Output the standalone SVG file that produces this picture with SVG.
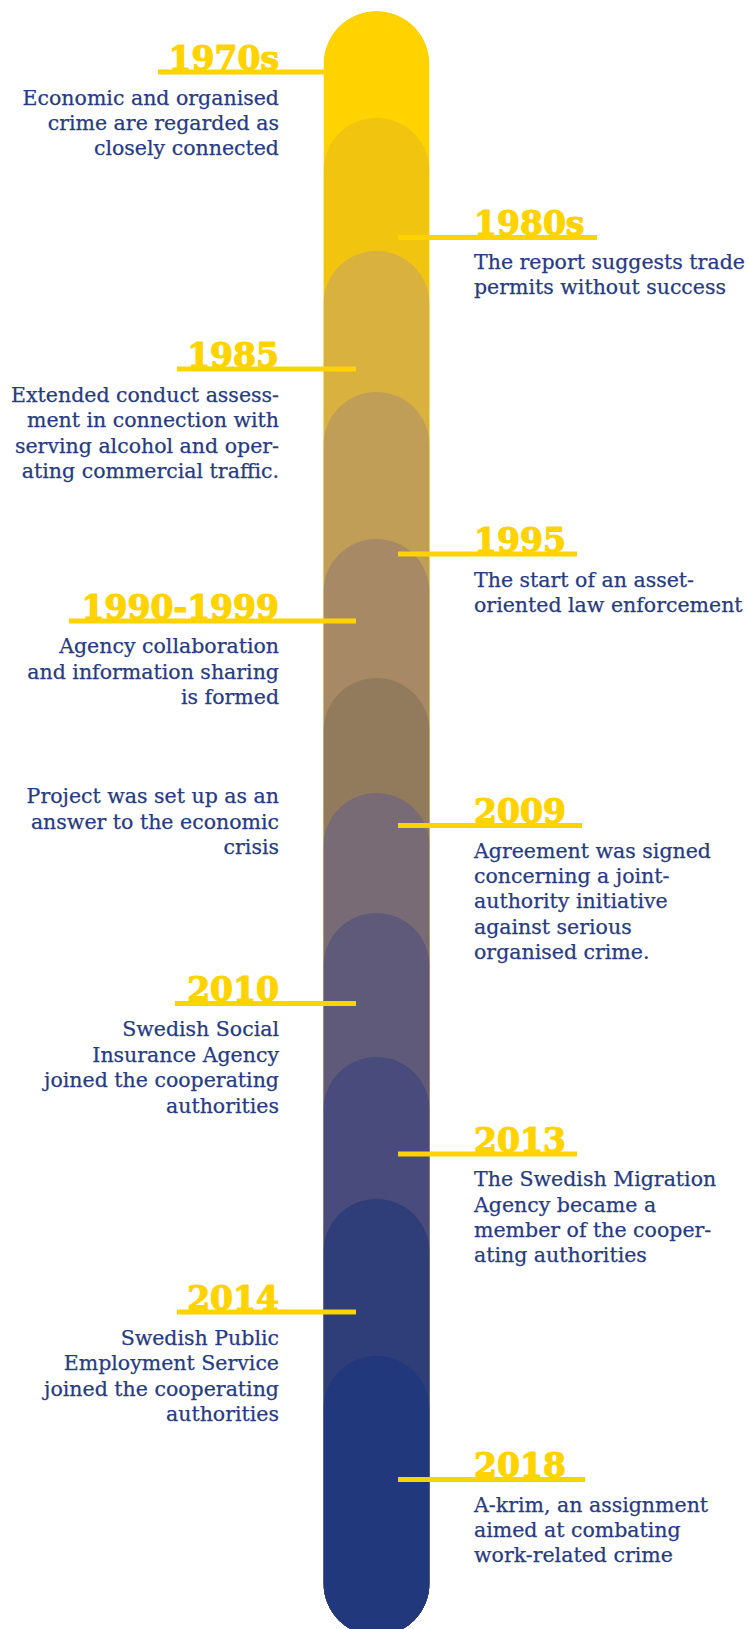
<svg xmlns="http://www.w3.org/2000/svg" width="749" height="1629" viewBox="0 0 749 1629">
  <style>
    .year { font-family: "DejaVu Serif", "Liberation Serif", serif; font-weight: bold; font-size: 33px; fill: #FFD300; stroke: #FFD300; stroke-width: 1.2; stroke-linejoin: round; }
    .body { font-family: "DejaVu Serif", "Liberation Serif", serif; font-size: 20.5px; fill: #273B80; stroke: #273B80; stroke-width: 0.25; }
    .left { text-anchor: end; }
    .right { text-anchor: start; }
    .tick { stroke: #FFD300; stroke-width: 5; fill: none; }
  </style>
  <defs>
    <!-- one column segment with a rounded head; each is shifted down to its start -->
    <path id="seg" d="M323.5,53 A53,53 0 0 1 429.5,53 V1700 H323.5 Z"/>
    <!-- overall outline of the column: rounded head and foot -->
    <clipPath id="columnClip">
      <path d="M323.5,64 A53,53 0 0 1 429.5,64 V1583 A53,53 0 0 1 323.5,1583 Z"/>
    </clipPath>
  </defs>
  <rect width="749" height="1629" fill="#ffffff"/>

  <!-- timeline column: overlapping segments fading from yellow to navy -->
  <g id="column" clip-path="url(#columnClip)">
    <use href="#seg" y="11" fill="#FFD200"/>
    <use href="#seg" y="118" fill="#F0C40F"/>
    <use href="#seg" y="251" fill="#D8B13E"/>
    <use href="#seg" y="392" fill="#C19E58"/>
    <use href="#seg" y="539" fill="#A78A65"/>
    <use href="#seg" y="678" fill="#927B5D"/>
    <use href="#seg" y="793" fill="#796B75"/>
    <use href="#seg" y="913" fill="#5F5A79"/>
    <use href="#seg" y="1057" fill="#484B7B"/>
    <use href="#seg" y="1199" fill="#2F3E79"/>
    <use href="#seg" y="1356" fill="#22387C"/>
  </g>

  <!-- connector ticks from the column to each label -->
  <g id="connectors">
    <line class="tick" x1="158" y1="72" x2="356" y2="72"/>
    <line class="tick" x1="398" y1="237.5" x2="597" y2="237.5"/>
    <line class="tick" x1="177" y1="369" x2="356" y2="369"/>
    <line class="tick" x1="398" y1="554" x2="577" y2="554"/>
    <line class="tick" x1="69" y1="621" x2="356" y2="621"/>
    <line class="tick" x1="398" y1="825.5" x2="582" y2="825.5"/>
    <line class="tick" x1="175" y1="1003.5" x2="356" y2="1003.5"/>
    <line class="tick" x1="398" y1="1154" x2="577" y2="1154"/>
    <line class="tick" x1="177" y1="1312" x2="356" y2="1312"/>
    <line class="tick" x1="398" y1="1479.5" x2="585" y2="1479.5"/>
  </g>

  <g id="n1970s">
    <text class="year left" x="279" y="70">1970s</text>
    <text class="body left" x="279" y="105">Economic and organised</text>
    <text class="body left" x="279" y="130">crime are regarded as</text>
    <text class="body left" x="279" y="155">closely connected</text>
  </g>

  <g id="n1980s">
    <text class="year right" x="474" y="235">1980s</text>
    <text class="body right" x="474" y="269">The report suggests trade</text>
    <text class="body right" x="474" y="294">permits without success</text>
  </g>

  <g id="n1985">
    <text class="year left" x="279" y="367">1985</text>
    <text class="body left" x="279" y="402">Extended conduct assess-</text>
    <text class="body left" x="279" y="427">ment in connection with</text>
    <text class="body left" x="279" y="453">serving alcohol and oper-</text>
    <text class="body left" x="279" y="478">ating commercial traffic.</text>
  </g>

  <g id="n1995">
    <text class="year right" x="474" y="552">1995</text>
    <text class="body right" x="474" y="587">The start of an asset-</text>
    <text class="body right" x="474" y="612">oriented law enforcement</text>
  </g>

  <g id="n1990-1999">
    <text class="year left" x="279" y="619">1990-1999</text>
    <text class="body left" x="279" y="653">Agency collaboration</text>
    <text class="body left" x="279" y="679">and information sharing</text>
    <text class="body left" x="279" y="704">is formed</text>
  </g>

  <g id="nProject">
    <text class="body left" x="279" y="803">Project was set up as an</text>
    <text class="body left" x="279" y="829">answer to the economic</text>
    <text class="body left" x="279" y="854">crisis</text>
  </g>

  <g id="n2009">
    <text class="year right" x="474" y="823">2009</text>
    <text class="body right" x="474" y="858">Agreement was signed</text>
    <text class="body right" x="474" y="883">concerning a joint-</text>
    <text class="body right" x="474" y="908">authority initiative</text>
    <text class="body right" x="474" y="934">against serious</text>
    <text class="body right" x="474" y="959">organised crime.</text>
  </g>

  <g id="n2010">
    <text class="year left" x="279" y="1001">2010</text>
    <text class="body left" x="279" y="1036">Swedish Social</text>
    <text class="body left" x="279" y="1062">Insurance Agency</text>
    <text class="body left" x="279" y="1087">joined the cooperating</text>
    <text class="body left" x="279" y="1113">authorities</text>
  </g>

  <g id="n2013">
    <text class="year right" x="474" y="1152">2013</text>
    <text class="body right" x="474" y="1186">The Swedish Migration</text>
    <text class="body right" x="474" y="1212">Agency became a</text>
    <text class="body right" x="474" y="1237">member of the cooper-</text>
    <text class="body right" x="474" y="1262">ating authorities</text>
  </g>

  <g id="n2014">
    <text class="year left" x="279" y="1310">2014</text>
    <text class="body left" x="279" y="1345">Swedish Public</text>
    <text class="body left" x="279" y="1370">Employment Service</text>
    <text class="body left" x="279" y="1396">joined the cooperating</text>
    <text class="body left" x="279" y="1421">authorities</text>
  </g>

  <g id="n2018">
    <text class="year right" x="474" y="1477">2018</text>
    <text class="body right" x="474" y="1512">A-krim, an assignment</text>
    <text class="body right" x="474" y="1537">aimed at combating</text>
    <text class="body right" x="474" y="1562">work-related crime</text>
  </g>
</svg>
